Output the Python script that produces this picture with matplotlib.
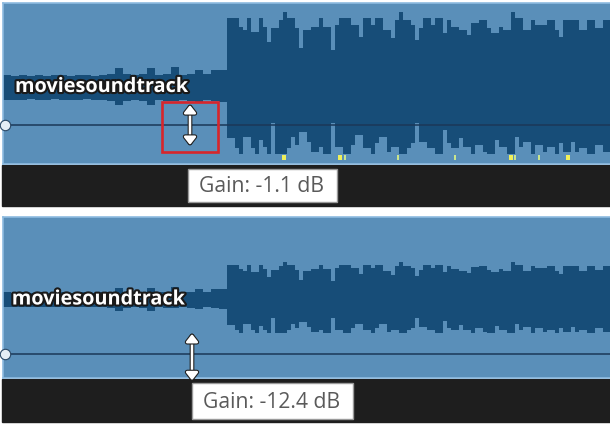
import numpy as np
import matplotlib.pyplot as plt
from matplotlib.patches import Rectangle, FancyArrowPatch
import matplotlib.patheffects as pe

# clip timeline (seconds)
clip_len = 15.175
quiet_step = 0.2
loud_start = 5.6
loud_step = 0.1

# quiet intro envelope (amplitude, 1.0 = full scale), 0.2 s bins
quiet_top = [0.15, 0.14, 0.15, 0.14, 0.15, 0.14, 0.15, 0.15, 0.14, 0.15,
             0.15, 0.14, 0.15, 0.16, 0.24, 0.16, 0.15, 0.16, 0.24, 0.15,
             0.16, 0.25, 0.15, 0.16, 0.21, 0.16, 0.21, 0.21]
quiet_bot = [0.16, 0.16, 0.16, 0.15, 0.16, 0.16, 0.15, 0.16, 0.16, 0.16,
             0.15, 0.16, 0.16, 0.17, 0.23, 0.17, 0.16, 0.17, 0.23, 0.16,
             0.17, 0.18, 0.16, 0.17, 0.19, 0.16, 0.18, 0.19]

# loud section envelope, 0.1 s bins
loud_top = [0.86, 0.86, 0.86, 0.75, 0.71, 0.86, 0.69, 0.69, 0.86, 0.75,
            0.56, 0.74, 0.74, 0.84, 0.94, 0.86, 0.86, 0.74, 0.49, 0.71,
            0.71, 0.75, 0.75, 0.86, 0.75, 0.75, 0.46, 0.78, 0.86, 0.86,
            0.86, 0.78, 0.78, 0.63, 0.86, 0.86, 0.78, 0.86, 0.86, 0.71,
            0.71, 0.61, 0.84, 0.94, 0.84, 0.84, 0.78, 0.59, 0.74, 0.86,
            0.86, 0.78, 0.86, 0.86, 0.68, 0.84, 0.75, 0.75, 0.71, 0.71,
            0.65, 0.80, 0.80, 0.84, 0.84, 0.74, 0.68, 0.68, 0.75, 0.71,
            0.71, 0.94, 0.86, 0.86, 0.71, 0.71, 0.84, 0.78, 0.78, 0.78,
            0.84, 0.84, 0.71, 0.63, 0.84, 0.84, 0.84, 0.84, 0.71, 0.71,
            0.84, 0.84, 0.74, 0.74, 0.84, 0.84]
loud_bot = [0.64, 0.64, 0.76, 0.84, 0.62, 0.62, 0.76, 0.84, 0.66, 0.75,
            0.84, 0.45, 0.84, 0.84, 0.84, 0.76, 0.62, 0.72, 0.56, 0.56,
            0.69, 0.81, 0.81, 0.75, 0.84, 0.84, 0.45, 0.75, 0.75, 0.84,
            0.84, 0.72, 0.60, 0.60, 0.76, 0.76, 0.84, 0.70, 0.62, 0.62,
            0.81, 0.75, 0.75, 0.84, 0.84, 0.76, 0.70, 0.45, 0.69, 0.69,
            0.76, 0.76, 0.84, 0.84, 0.54, 0.70, 0.76, 0.76, 0.64, 0.75,
            0.75, 0.84, 0.72, 0.72, 0.81, 0.84, 0.84, 0.66, 0.75, 0.75,
            0.84, 0.84, 0.62, 0.75, 0.69, 0.69, 0.84, 0.72, 0.72, 0.81,
            0.75, 0.75, 0.84, 0.70, 0.81, 0.81, 0.69, 0.81, 0.76, 0.76,
            0.84, 0.84, 0.72, 0.72, 0.81, 0.81]

# clip markers along the lower edge
marker_times = [7.025, 8.425, 8.55, 9.875, 11.3, 12.7, 12.8, 13.4, 14.125]
marker_bright = [True, True, False, False, False, True, False, False, True]

# two states of the same clip
gain_db = [-1.1, -12.4]
loud_scale = [1.0, 0.5]
quiet_scale = [1.0, 0.6]
handle_time = [4.675, 4.725]

clip_bg = '#5a8fb9'
wave_col = '#174d78'
line_col = '#1b3858'


def gain_level(db):
    # where the volume line sits inside the clip
    return -0.455 + 0.0181 * db


fig = plt.figure(figsize=(6.1, 4.24), dpi=100)

# background: dark track strips and tooltips, in pixel units
bg = fig.add_axes([0, 0, 1, 1])
bg.set_xlim(0, 610)
bg.set_ylim(424, 0)
bg.axis('off')
bg.add_patch(Rectangle((2, 165), 608, 41, color='#1e1e1e'))
bg.add_patch(Rectangle((2, 379), 608, 43, color='#1e1e1e'))

clip_boxes = [[3 / 610, 1 - 164 / 424, 607 / 610, 161 / 424],
              [3 / 610, 1 - 378 / 424, 607 / 610, 161 / 424]]
clip_ylims = [(-0.9625, 1.05), (-0.98, 1.03)]

for k in range(2):
    ax = fig.add_axes(clip_boxes[k])
    ax.set_facecolor(clip_bg)
    ax.set_xlim(0, clip_len)
    ax.set_ylim(*clip_ylims[k])
    ax.set_xticks([])
    ax.set_yticks([])
    for s in ['left', 'top', 'bottom']:
        ax.spines[s].set_color('#8dbbe0')
        ax.spines[s].set_linewidth(1.2)
    ax.spines['right'].set_visible(False)

    qt = np.array(quiet_top) * quiet_scale[k]
    qb = np.array(quiet_bot) * quiet_scale[k]
    q_edges = np.arange(len(quiet_top) + 1) * quiet_step
    ax.stairs(qt, q_edges, baseline=-qb, fill=True, color=wave_col, lw=0)

    lt = np.array(loud_top) * loud_scale[k]
    lb = np.array(loud_bot) * loud_scale[k]
    l_edges = loud_start + np.arange(len(loud_top) + 1) * loud_step
    ax.stairs(lt, l_edges, baseline=-lb, fill=True, color=wave_col, lw=0)

    lvl = gain_level(gain_db[k])
    ax.axhline(lvl, color=line_col, lw=1.1, zorder=3)
    ax.plot([0.05], [lvl], 'o', ms=7.5, mfc='#e4edf5', mec='#2a4866',
            mew=0.8, clip_on=False, zorder=4)

    ax.text(0.3 if k == 0 else 0.22, 0.0, 'moviesoundtrack', fontsize=14.3,
            family='Open Sans', fontweight='bold', color='white',
            va='center', ha='left', zorder=5,
            path_effects=[pe.withStroke(linewidth=3, foreground='#1a1a1a')])

    if k == 0:
        for t, b in zip(marker_times, marker_bright):
            ax.bar(t, 0.065, width=0.09 if b else 0.05, bottom=-0.91,
                   color='#f0f05a' if b else '#c9e58c', zorder=2)
        ax.add_patch(Rectangle((3.975, -0.81), 1.4, 0.62, fill=False,
                               ec='#d7262b', lw=1.9, zorder=5))

    y0 = lvl + 0.25
    y1 = lvl - 0.25 if k == 0 else lvl - 0.33
    arr = FancyArrowPatch((handle_time[k], y1), (handle_time[k], y0),
                          arrowstyle='<|-|>,head_length=4.5,head_width=3.5',
                          color='white', lw=1.8, clip_on=False, zorder=6,
                          shrinkA=0, shrinkB=0,
                          path_effects=[pe.withStroke(linewidth=3.4,
                                                      foreground='#202020')])
    ax.add_patch(arr)

# gain tooltips
tips = [(188, 169, 149, 33), (192, 383, 161, 36)]
for (x, y, w, h), db in zip(tips, gain_db):
    bg.add_patch(Rectangle((x, y), w, h, fc='white', ec='#9a9a9a', lw=1,
                           zorder=7))
    bg.text(x + 11, y + h / 2 + 1, 'Gain: %.1f dB' % db, fontsize=15.2,
            family='Open Sans', color='#5a5a5a', va='center', ha='left',
            zorder=8)

fig.savefig('out.png', dpi=100)
